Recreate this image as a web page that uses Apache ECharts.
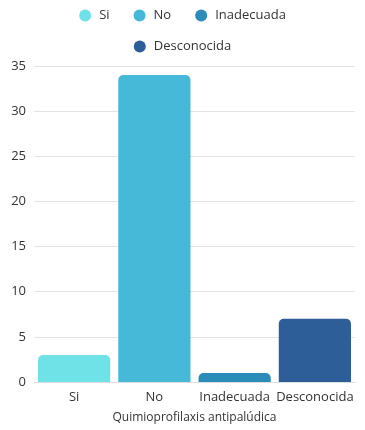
<!DOCTYPE html>
<html>
<head>
<meta charset="utf-8">
<script src="https://cdn.jsdelivr.net/npm/echarts@6/dist/echarts.min.js"></script>
<style>
  html, body { margin: 0; padding: 0; background: #fff; }
  #chart { width: 365px; height: 430px; }
</style>
</head>
<body>
<div id="chart"></div>
<script>
var categories = ['Si', 'No', 'Inadecuada', 'Desconocida'];
var counts = [3, 34, 1, 7];
var colors = ['#6ee2e6', '#45b9d7', '#2b8bb9', '#2d5e98'];
var yTicks = [0, 5, 10, 15, 20, 25, 30, 35];

var chartDom = document.getElementById('chart');
var myChart = echarts.init(chartDom);

// one series per category so the legend shows each one
var series = categories.map(function (name, i) {
    var data = categories.map(function (c, j) { return j === i ? counts[i] : null; });
    return {
        name: name,
        type: 'bar',
        stack: 'total',
        barWidth: '90%',
        data: data,
        itemStyle: { color: colors[i], borderRadius: [5, 5, 0, 0] }
    };
});

var legendText = { fontFamily: 'Open Sans', fontSize: 13, color: '#333', padding: [0, 0, 0, 3] };

var option = {
    textStyle: { fontFamily: 'Open Sans' },
    legend: [{
        data: categories.slice(0, 3),
        top: 4,
        left: 'center',
        icon: 'circle',
        itemWidth: 12,
        itemHeight: 12,
        itemGap: 24,
        textStyle: legendText
    }, {
        data: categories.slice(3),
        top: 35,
        left: 'center',
        icon: 'circle',
        itemWidth: 12,
        itemHeight: 12,
        textStyle: legendText
    }],
    grid: {
        left: 34,
        right: 10,
        top: 66,
        bottom: 48
    },
    xAxis: {
        type: 'category',
        data: categories,
        name: 'Quimioprofilaxis antipalúdica',
        nameLocation: 'middle',
        nameGap: 30,
        nameTextStyle: { fontSize: 12, color: '#333' },
        axisLine: { lineStyle: { color: '#ddd' } },
        axisTick: { show: false },
        axisLabel: { fontSize: 13, color: '#333', margin: 9, interval: 0 }
    },
    yAxis: {
        type: 'value',
        min: yTicks[0],
        max: yTicks[yTicks.length - 1],
        interval: 5,
        axisLabel: { fontSize: 13, color: '#333', margin: 8 },
        splitLine: { lineStyle: { color: '#e3e3e3' } }
    },
    series: series
};

option && myChart.setOption(option);
</script>
</body>
</html>
